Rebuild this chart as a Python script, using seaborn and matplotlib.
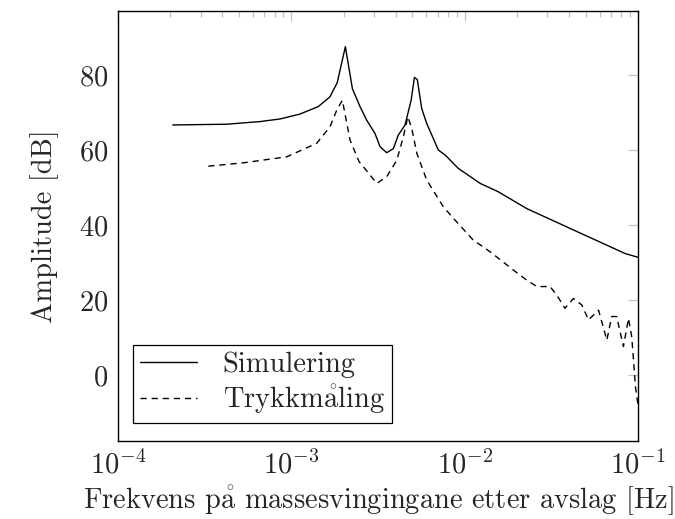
import numpy as np
import pandas as pd
import matplotlib
matplotlib.use("Agg")
import matplotlib.pyplot as plt
import seaborn as sns

# Simulering (solid line): frequency [Hz] and amplitude [dB]
sim_freq = [2.07e-4, 4.24e-4, 6.59e-4, 8.61e-4, 1.12e-3, 1.43e-3, 1.67e-3, 1.84e-3,
            2.05e-3, 2.25e-3, 2.49e-3, 2.72e-3, 3.04e-3, 3.25e-3, 3.55e-3, 3.88e-3,
            4.14e-3, 4.53e-3, 4.91e-3, 5.13e-3, 5.33e-3, 5.65e-3, 6.04e-3, 7.05e-3,
            7.71e-3, 9.20e-3, 1.23e-2, 1.56e-2, 2.28e-2, 4.24e-2, 8.43e-2, 1.0e-1]
sim_amp = [66.7, 66.9, 67.6, 68.3, 69.6, 71.6, 74.2, 78.0,
           87.6, 76.4, 71.6, 68.0, 64.4, 60.9, 59.3, 60.4,
           64.0, 66.7, 73.3, 79.4, 78.8, 71.1, 67.1, 60.0,
           58.7, 55.1, 51.1, 48.9, 44.4, 38.7, 32.4, 31.4]

# Trykkmåling (dashed line)
meas_freq = [3.32e-4, 5.28e-4, 9.40e-4, 1.40e-3, 1.67e-3, 1.83e-3, 1.97e-3, 2.18e-3,
             2.46e-3, 2.60e-3, 3.11e-3, 3.55e-3, 4.06e-3, 4.43e-3, 4.70e-3, 4.95e-3,
             5.30e-3, 6.04e-3, 7.53e-3, 8.61e-3, 1.12e-2, 1.40e-2, 1.91e-2, 2.28e-2,
             2.61e-2, 3.11e-2, 3.40e-2, 3.79e-2, 4.24e-2, 4.74e-2, 5.18e-2, 5.92e-2,
             6.61e-2, 7.05e-2, 7.53e-2, 8.24e-2, 8.81e-2, 9.20e-2, 9.42e-2, 9.66e-2, 1.0e-1]
meas_amp = [55.7, 56.6, 58.2, 61.8, 66.2, 70.7, 73.3, 62.7,
            56.9, 55.6, 51.1, 52.9, 57.3, 63.6, 68.9, 65.8,
            59.1, 52.0, 44.9, 41.8, 36.0, 32.9, 28.0, 25.3,
            23.6, 23.6, 21.3, 17.8, 20.4, 18.7, 14.7, 17.3,
            9.3, 15.6, 15.6, 7.6, 15.1, 10.2, 4.0, -3.0, -8.0]

sim = pd.DataFrame({"freq": sim_freq, "amp": sim_amp})
meas = pd.DataFrame({"freq": meas_freq, "amp": meas_amp})

sns.set_style("white")
plt.rcParams["font.family"] = ["cmr10", "DejaVu Serif"]
plt.rcParams["mathtext.fontset"] = "cm"
plt.rcParams["axes.formatter.use_mathtext"] = True

fs = 20.5
aa = r"$\mathring{\mathrm{a}}$"  # å drawn with the Computer Modern fonts

fig = plt.figure(figsize=(6.75, 5.19), dpi=100)
ax = fig.add_axes([0.1748, 0.1503, 0.7704, 0.8285])

sns.lineplot(data=sim, x="freq", y="amp", ax=ax, color="black", lw=1.0,
             label="Simulering", estimator=None, sort=False)
sns.lineplot(data=meas, x="freq", y="amp", ax=ax, color="black", lw=1.0,
             label="Trykkm" + aa + "ling", estimator=None, sort=False)
ax.lines[1].set_dashes([4.5, 3.5])

ax.set_xscale("log")
ax.set_xlim(1e-4, 1e-1)
ax.set_ylim(-17.6, 97.1)
ax.set_yticks([0, 20, 40, 60, 80])

ax.tick_params(which="both", direction="in", top=True, right=True,
               color="#c0c0c0", labelsize=fs, pad=7)
ax.tick_params(which="major", length=7.5, width=0.9)
ax.tick_params(which="minor", length=4.5, width=0.9)
for s in ax.spines.values():
    s.set_color("black")
    s.set_linewidth(1.0)

ax.set_xlabel("Frekvens p" + aa + " massesvingingane etter avslag [Hz]",
              fontsize=fs, labelpad=2)
ax.set_ylabel("Amplitude [dB]", fontsize=fs, labelpad=14)

leg = ax.legend(loc="lower left", bbox_to_anchor=(0.029, 0.042), borderaxespad=0,
                fontsize=fs, fancybox=False, edgecolor="black", framealpha=1,
                handlelength=2.0, borderpad=0.25, labelspacing=0.15, handletextpad=0.9)
leg.get_frame().set_linewidth(0.9)

fig.savefig("out.png", dpi=100)
